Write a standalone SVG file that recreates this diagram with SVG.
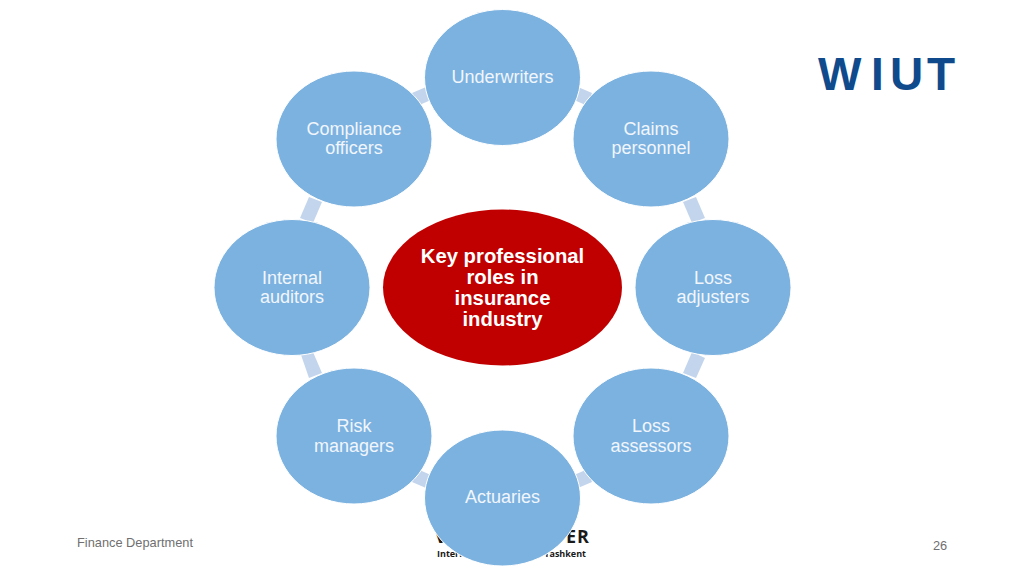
<svg xmlns="http://www.w3.org/2000/svg" width="1024" height="574" viewBox="0 0 1024 574">
<style>
.n{fill:#7cb2e0;stroke:#fff;stroke-width:1}
.c{fill:#c3d5ec}
.t{font-family:"Liberation Sans",Arial,sans-serif;font-size:18px;fill:#f1f6fc;text-anchor:middle}
.b{font-family:"Liberation Sans",Arial,sans-serif;font-size:20.3px;font-weight:bold;fill:#fff;text-anchor:middle}
.f{font-family:"Liberation Sans",Arial,sans-serif;font-size:12.8px;fill:#6f6f6f}
.k{font-family:"Open Sans","Liberation Sans",sans-serif;font-weight:bold;fill:#1a1a1a}
</style>
<rect width="1024" height="574" fill="#fff"/>
<g id="logo-wiut"><text x="818 871 890 927" y="90" font-family="'Liberation Sans',Arial,sans-serif" font-weight="bold" font-size="46" fill="#0f4a8c">WIUT</text></g>
<g id="logo-partial">
<text class="k" x="435" y="543" font-size="18">V</text>
<text class="k" x="566" y="543" font-size="18" letter-spacing="1">ER</text>
<text class="k" x="437" y="557" font-size="9">Intern</text>
<text class="k" x="586" y="557" font-size="9" text-anchor="end">n Tashkent</text>
</g>
<g id="connectors">
<polygon class="c" points="412,93 426,87 431,100 417,106"/>
<polygon class="c" points="578,87 592,93 588,106 574,100"/>
<polygon class="c" points="683,202 696,197 705,218 692,223"/>
<polygon class="c" points="692,352 705,358 696,378 683,373"/>
<polygon class="c" points="588,469 592,482 578,488 574,475"/>
<polygon class="c" points="417,469 431,475 426,488 412,482"/>
<polygon class="c" points="300,352 313,352 322,373 309,378"/>
<polygon class="c" points="309,197 322,202 313,223 300,218"/>
</g>
<g id="node-compliance"><ellipse class="n" cx="354" cy="139" rx="78" ry="68"/><text class="t" x="354" y="135">Compliance</text><text class="t" x="354" y="154">officers</text></g>
<g id="node-claims"><ellipse class="n" cx="651" cy="139" rx="78" ry="68"/><text class="t" x="651" y="135">Claims</text><text class="t" x="651" y="154">personnel</text></g>
<g id="node-underwriters"><ellipse class="n" cx="502.5" cy="77.5" rx="78" ry="68"/><text class="t" x="502.5" y="83">Underwriters</text></g>
<g id="node-adjusters"><ellipse class="n" cx="713" cy="287.5" rx="78" ry="68"/><text class="t" x="713" y="284">Loss</text><text class="t" x="713" y="303">adjusters</text></g>
<g id="node-auditors"><ellipse class="n" cx="292" cy="287.5" rx="78" ry="68"/><text class="t" x="292" y="284">Internal</text><text class="t" x="292" y="303">auditors</text></g>
<g id="node-assessors"><ellipse class="n" cx="651" cy="436" rx="78" ry="68"/><text class="t" x="651" y="432">Loss</text><text class="t" x="651" y="452">assessors</text></g>
<g id="node-risk"><ellipse class="n" cx="354" cy="436" rx="78" ry="68"/><text class="t" x="354" y="432">Risk</text><text class="t" x="354" y="452">managers</text></g>
<g id="node-actuaries"><ellipse class="n" cx="502.5" cy="498" rx="78" ry="68"/><text class="t" x="502.5" y="503">Actuaries</text></g>
<g id="node-center"><ellipse cx="502.5" cy="287.5" rx="119.5" ry="78" fill="#c00000"/><text class="b" x="502.5" y="263">Key professional</text><text class="b" x="502.5" y="284">roles in</text><text class="b" x="502.5" y="305">insurance</text><text class="b" x="502.5" y="326">industry</text></g>
<g id="footer"><text class="f" x="77" y="547">Finance Department</text><text class="f" x="933" y="550">26</text></g>
</svg>
